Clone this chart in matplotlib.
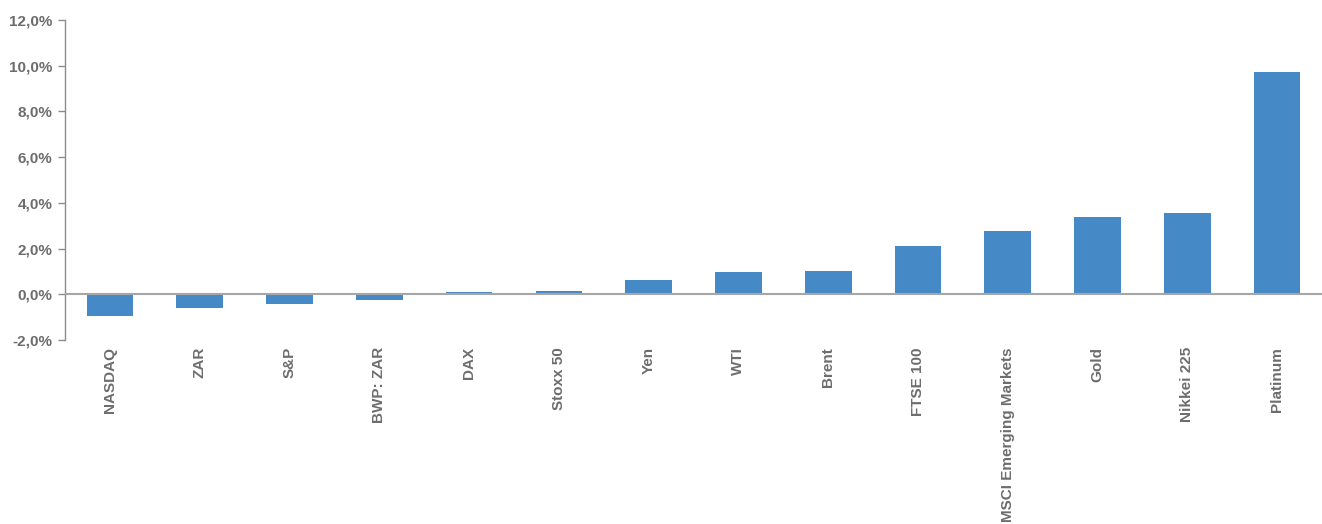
import matplotlib
matplotlib.use("Agg")
import matplotlib.pyplot as plt
from matplotlib.ticker import FuncFormatter

categories = ["NASDAQ", "ZAR", "S&P", "BWP: ZAR", "DAX", "Stoxx 50", "Yen", "WTI",
              "Brent", "FTSE 100", "MSCI Emerging Markets", "Gold", "Nikkei 225", "Platinum"]
values = [-0.95, -0.60, -0.42, -0.24, 0.10, 0.13, 0.63, 0.96, 1.00, 2.10, 2.76, 3.37, 3.57, 9.72]
yticks = [-2, 0, 2, 4, 6, 8, 10, 12]

plt.rcParams['font.family'] = ['Liberation Sans', 'DejaVu Sans']
text_color = "#6d6d6d"
bar_color = "#4589c6"

fig = plt.figure(figsize=(13.22, 5.24), dpi=100)
ax = fig.add_axes([0.0492, 0.351, 0.9508, 0.611])

x = list(range(len(categories)))
ax.bar(x, values, width=0.52, color=bar_color, zorder=2)
ax.axhline(0, color="#a6a6a6", linewidth=1.5, zorder=3)

ax.set_xlim(-0.5, len(categories) - 0.5)
ax.set_ylim(-2, 12)
ax.set_yticks(yticks)
ax.yaxis.set_major_formatter(FuncFormatter(lambda v, p: f"{v:.1f}%".replace(".", ",")))

for s in ["top", "right", "bottom"]:
    ax.spines[s].set_visible(False)
ax.spines["left"].set_color("#8c8c8c")
ax.spines["left"].set_linewidth(1.0)
ax.tick_params(axis="y", direction="out", length=5, color="#8c8c8c", width=1.0,
               labelsize=11, labelcolor=text_color, pad=4)
for lbl in ax.get_yticklabels():
    lbl.set_fontweight("bold")

ax.set_xticks(x)
ax.set_xticklabels(categories, rotation=90, ha="center", va="top",
                   fontsize=11, fontweight="bold", color=text_color)
ax.tick_params(axis="x", length=0, pad=5)

fig.savefig("out.png", dpi=100)
